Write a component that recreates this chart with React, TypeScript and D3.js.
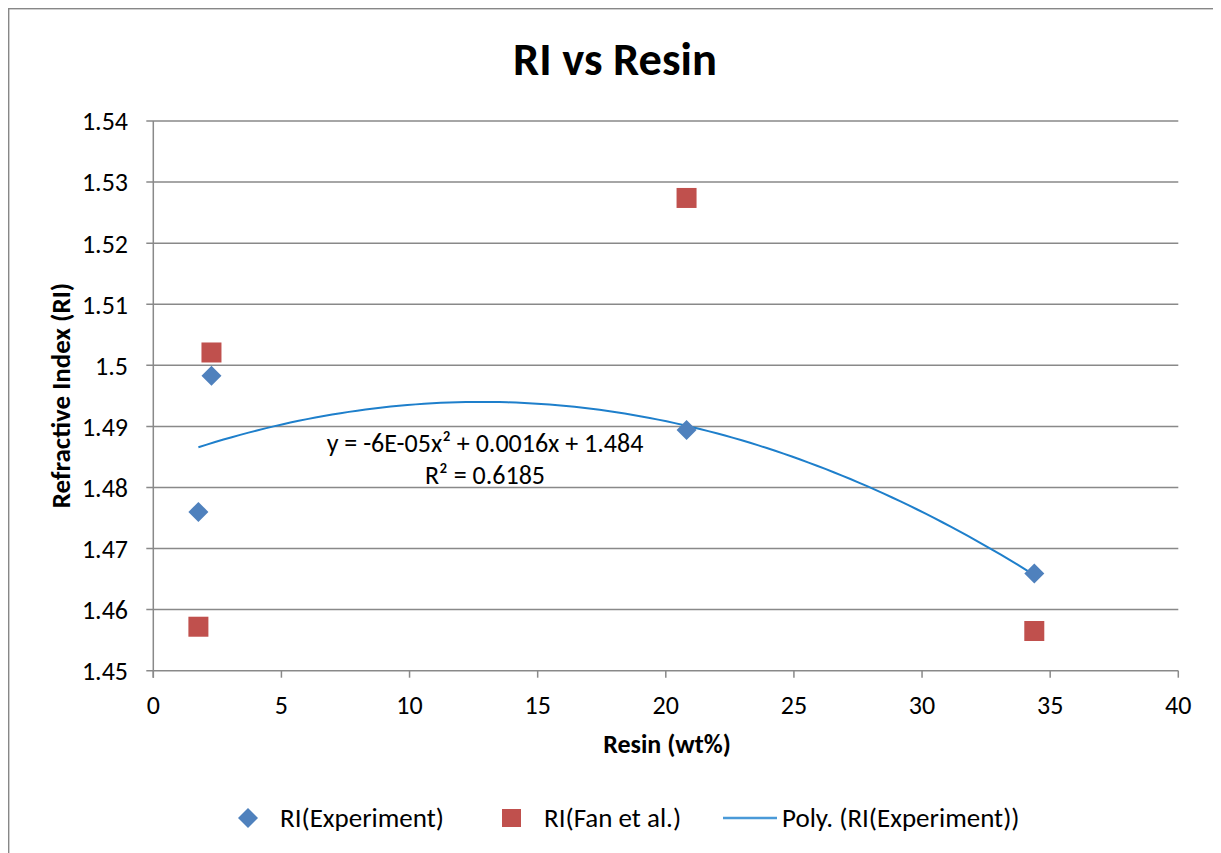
import React from "react";
import * as d3 from "d3";

const expX = [1.76, 2.27, 20.81, 34.38];
const expY = [1.476, 1.4983, 1.4894, 1.4659];
const fanX = [1.76, 2.27, 20.81, 34.38];
const fanY = [1.4572, 1.5021, 1.5274, 1.4565];
const xTicks = [0, 5, 10, 15, 20, 25, 30, 35, 40];
const yTicks = [1.45, 1.46, 1.47, 1.48, 1.49, 1.5, 1.51, 1.52, 1.53, 1.54];
const yTickLabels = ["1.45", "1.46", "1.47", "1.48", "1.49", "1.5", "1.51", "1.52", "1.53", "1.54"];
const legendLabels = ["RI(Experiment)", "RI(Fan et al.)", "Poly. (RI(Experiment))"];
const eqLines = ["y = -6E-05x² + 0.0016x + 1.484", "R² = 0.6185"];

// quadratic least squares fit
function polyFit(xs: number[], ys: number[]) {
  const n = xs.length;
  let s0 = n, s1 = 0, s2 = 0, s3 = 0, s4 = 0, t0 = 0, t1 = 0, t2 = 0;
  for (let i = 0; i < n; i++) {
    const x = xs[i], y = ys[i];
    s1 += x; s2 += x * x; s3 += x ** 3; s4 += x ** 4;
    t0 += y; t1 += x * y; t2 += x * x * y;
  }
  const M = [
    [s0, s1, s2, t0],
    [s1, s2, s3, t1],
    [s2, s3, s4, t2],
  ];
  for (let i = 0; i < 3; i++) {
    for (let j = i + 1; j < 3; j++) {
      const f = M[j][i] / M[i][i];
      for (let k = i; k < 4; k++) M[j][k] -= f * M[i][k];
    }
  }
  const c = [0, 0, 0];
  for (let i = 2; i >= 0; i--) {
    let s = M[i][3];
    for (let k = i + 1; k < 3; k++) s -= M[i][k] * c[k];
    c[i] = s / M[i][i];
  }
  return c;
}

export default function App() {
  const W = 1213, H = 860;
  const ox = 8, oy = 8;
  const x = d3.scaleLinear().domain([0, 40]).range([153.3 - ox, 1178.3 - ox]);
  const y = d3.scaleLinear().domain([1.45, 1.54]).range([670.7 - oy, 121 - oy]);
  const font = "Carlito, Lato, 'Open Sans', sans-serif";
  const c = polyFit(expX, expY);
  const x0 = d3.min(expX)!, x1 = d3.max(expX)!;
  const trend = d3.range(0, 101).map((i) => {
    const xv = x0 + ((x1 - x0) * i) / 100;
    return [xv, c[0] + c[1] * xv + c[2] * xv * xv] as [number, number];
  });
  const line = d3.line<[number, number]>().x((d) => x(d[0])).y((d) => y(d[1]));
  const diamond = (cx: number, cy: number, r: number) =>
    `M${cx},${cy - r}L${cx + r},${cy}L${cx},${cy + r}L${cx - r},${cy}Z`;
  const blue = "#4F81BD", red = "#C0504D", trendC = "#1E7FCB";
  const grid = "#898989";
  const x0px = x(0), x40 = x(40), yb = y(1.45);
  const fs = 26;
  const lfs = 27;
  return (
    <svg width={W} height={H} style={{ display: "block" }}>
      <rect x={0.7} y={0.7} width={1211.5} height={H} fill="#fff" stroke="#878787" strokeWidth={1.4} />
      <text x={615 - ox} y={75 - oy} textAnchor="middle" fontFamily={font} fontWeight="bold" fontSize={46.5}>RI vs Resin</text>
      {yTicks.map((t, i) => (
        <g key={i}>
          <line x1={x0px - 7} x2={x40} y1={y(t)} y2={y(t)} stroke={grid} strokeWidth={1.5} />
          <text x={128 - ox} y={y(t)} dy="0.36em" textAnchor="end" fontFamily={font} fontSize={fs}>{yTickLabels[i]}</text>
        </g>
      ))}
      <line x1={x0px} x2={x0px} y1={y(1.54)} y2={yb + 7} stroke={grid} strokeWidth={1.5} />
      {xTicks.map((t) => (
        <g key={t}>
          <line x1={x(t)} x2={x(t)} y1={yb} y2={yb + 7} stroke={grid} strokeWidth={1.5} />
          <text x={x(t)} y={714 - oy} textAnchor="middle" fontFamily={font} fontSize={fs}>{t}</text>
        </g>
      ))}
      <text x={667 - ox} y={753 - oy} textAnchor="middle" fontFamily={font} fontWeight="bold" fontSize={26}>Resin (wt%)</text>
      <text transform={`translate(${70 - ox},${395.5 - oy}) rotate(-90)`} textAnchor="middle" fontFamily={font} fontWeight="bold" fontSize={27}>Refractive Index (RI)</text>
      <path d={line(trend) || ""} fill="none" stroke={trendC} strokeWidth={2} />
      {expX.map((v, i) => (
        <path key={"e" + i} d={diamond(x(v), y(expY[i]), 10)} fill={blue} />
      ))}
      {fanX.map((v, i) => (
        <rect key={"f" + i} x={x(v) - 10} y={y(fanY[i]) - 10} width={20} height={20} fill={red} />
      ))}
      <text x={485 - ox} y={452 - oy} textAnchor="middle" fontFamily={font} fontSize={fs}>{eqLines[0]}</text>
      <text x={485 - ox} y={484 - oy} textAnchor="middle" fontFamily={font} fontSize={fs}>{eqLines[1]}</text>
      {/* legend */}
      <path d={diamond(248 - ox, 818 - oy, 10)} fill={blue} />
      <text x={280 - ox} y={826.5 - oy} fontFamily={font} fontSize={lfs}>{legendLabels[0]}</text>
      <rect x={502 - ox} y={809 - oy} width={19} height={18} fill={red} />
      <text x={544 - ox} y={826.5 - oy} fontFamily={font} fontSize={lfs}>{legendLabels[1]}</text>
      <line x1={723 - ox} x2={777 - ox} y1={818 - oy} y2={818 - oy} stroke="#4A9AD8" strokeWidth={2.5} />
      <text x={782 - ox} y={826.5 - oy} fontFamily={font} fontSize={lfs}>{legendLabels[2]}</text>
    </svg>
  );
}
